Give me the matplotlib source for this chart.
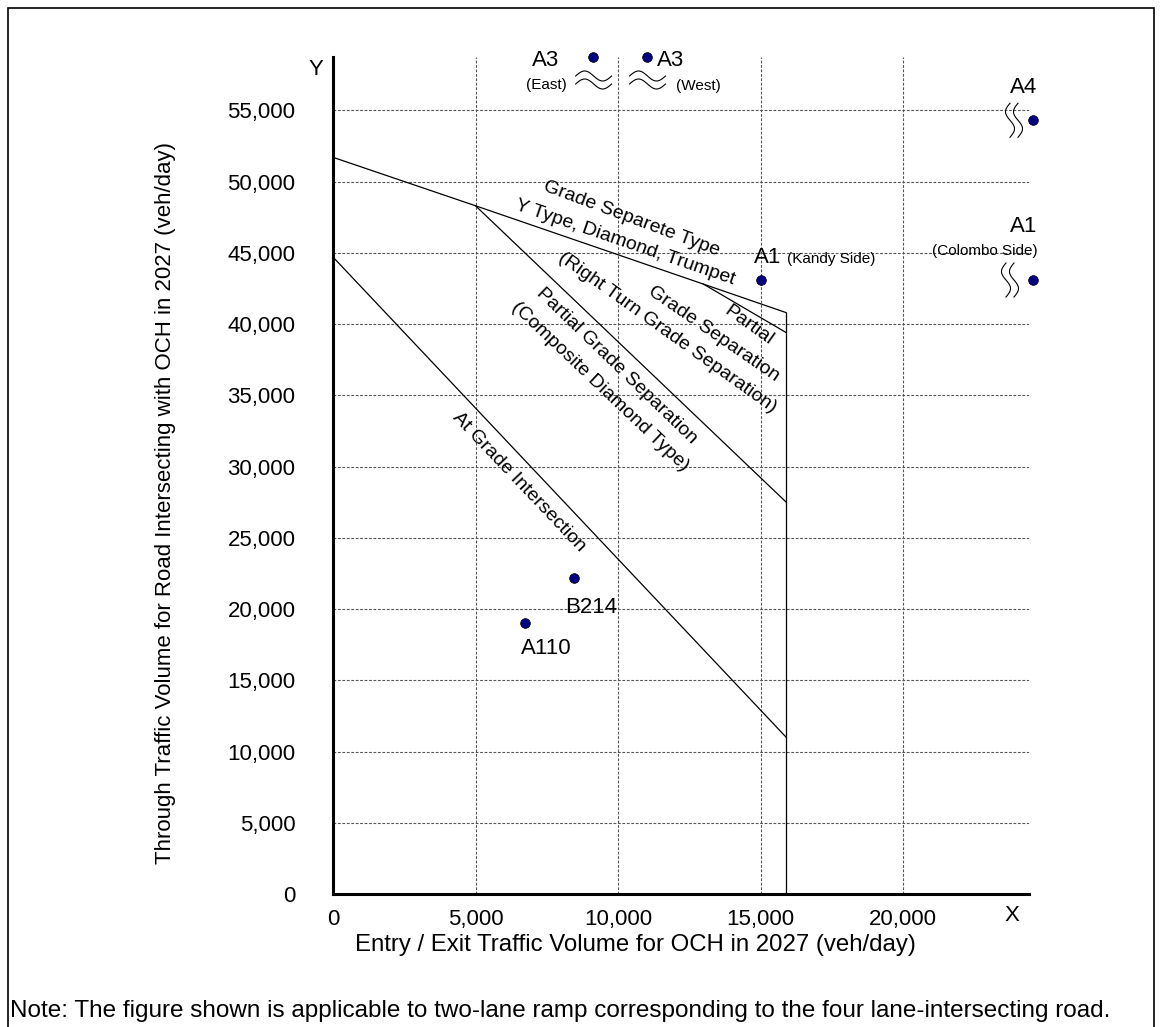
import numpy as np
import matplotlib.pyplot as plt
import matplotlib.transforms as mtransforms
from matplotlib.patches import Rectangle

plt.rcParams['font.family'] = ['Liberation Sans', 'DejaVu Sans']

# boundary lines (x = entry/exit veh/day, y = through veh/day)
grade_sep_x = [0, 5000, 13000, 15900]
grade_sep_y = [51700, 48300, 42800, 40800]
partial_rt_x = [13000, 15900]
partial_rt_y = [42800, 39400]
partial_cd_x = [5000, 15900]
partial_cd_y = [48300, 27500]
at_grade_x = [0, 15900]
at_grade_y = [44700, 11000]
limit_x = [15900, 15900]
limit_y = [40800, 0]

# intersections
pt_names = ['A3 East', 'A3 West', 'A4', 'A1 Colombo', 'A1 Kandy', 'B214', 'A110']
pt_x = [9110, 11000, 24560, 24560, 15000, 8460, 6740]
pt_y = [58740, 58740, 54300, 43090, 43090, 22180, 19020]

xticks = [0, 5000, 10000, 15000, 20000]
yticks = list(range(0, 55001, 5000))

fig = plt.figure(figsize=(11.62, 10.27), dpi=100)
ax = fig.add_axes([333/1162, 1-894/1027, (1029-333)/1162, (894-57)/1027])
ax.set_xlim(0, 24420)
ax.set_ylim(0, 58740)

ax.set_xticks(xticks)
ax.set_xticklabels([f'{v:,}' for v in xticks])
ax.set_yticks(yticks)
ax.set_yticklabels([f'{v:,}' for v in yticks])
ax.tick_params(axis='x', length=0, pad=11, labelsize=16)
ax.tick_params(axis='y', length=0, pad=27, labelsize=16)
ax.grid(True, color='#555555', linestyle=(0, (2.5, 1.5)), linewidth=0.8)
ax.set_axisbelow(True)
for s in ['top', 'right']:
    ax.spines[s].set_visible(False)
for s in ['left', 'bottom']:
    ax.spines[s].set_linewidth(2.2)

lk = dict(color='black', linewidth=0.9)
ax.plot(grade_sep_x, grade_sep_y, **lk)
ax.plot(partial_rt_x, partial_rt_y, **lk)
ax.plot(partial_cd_x, partial_cd_y, **lk)
ax.plot(at_grade_x, at_grade_y, **lk)
ax.plot(limit_x, limit_y, **lk)

ax.plot(pt_x, pt_y, 'o', color='#000080', markeredgecolor='black',
        markeredgewidth=0.5, markersize=7, clip_on=False, zorder=5)

# region labels
rk = dict(fontsize=14, ha='center', va='center', rotation_mode='anchor')
ax.text(10456, 47368, 'Grade Separete Type', rotation=-20.5, **rk)
ax.text(10246, 45684, 'Y Type, Diamond, Trumpet', rotation=-19, **rk)
ax.text(14596, 39930, 'Partial', rotation=-35.5, **rk)
ax.text(13368, 39298, 'Grade Separation', rotation=-34.5, **rk)
ax.text(11719, 39368, '(Right Turn Grade Separation)', rotation=-35.5, **rk)
ax.text(9965, 37053, 'Partial Grade Separation', rotation=-44, **rk)
ax.text(9368, 35579, '(Composite Diamond Type)', rotation=-43.5, **rk)
ax.text(6526, 28912, 'At Grade Intersection', rotation=-46.5, **rk)

# point labels (offsets in pixels)
def lab(i, s, dx, dy, size=16, ha='center'):
    ax.annotate(s, (pt_x[i], pt_y[i]), xytext=(dx, dy), textcoords='offset pixels',
                ha=ha, va='center', fontsize=size, annotation_clip=False)

lab(0, 'A3', -47, -4)
lab(0, '(East)', -46, -28, 11)
lab(1, 'A3', 24, -4)
lab(1, '(West)', 52, -29, 11)
lab(2, 'A4', -9, 33)
lab(3, 'A1', -9, 54)
lab(3, '(Colombo Side)', 5, 29, 11, 'right')
lab(4, 'A1', -7, 23, ha='left')
lab(4, '(Kandy Side)', 26, 21, 11, 'left')
lab(5, 'B214', 17, -30)
lab(6, 'A110', 21, -26)

# break marks (wavy double lines), shapes in pixels around each point
t = np.linspace(0, 2*np.pi, 60)
def wave(i, dx, dy, vertical=False):
    off = mtransforms.ScaledTranslation(pt_x[i], pt_y[i], ax.transData)
    tr = fig.dpi_scale_trans + off
    if vertical:
        wx = (dx - 4.5*np.sin(t)) / 100
        wy = (dy + np.linspace(17, -17, t.size)) / 100
    else:
        wx = (dx + np.linspace(-18, 18, t.size)) / 100
        wy = (dy + 5*np.sin(t)) / 100
    ax.plot(wx, wy, color='black', linewidth=0.8, transform=tr, clip_on=False)

for k in [0, 1]:
    wave(k, 1, -19)
    wave(k, 1, -27)
wave(2, -23, 0, True)
wave(2, -15, 0, True)
wave(3, -27, 0, True)
wave(3, -19, 0, True)

# axis names
ax.text(-0.0244, 0.9845, 'Y', transform=ax.transAxes, ha='center', va='center', fontsize=16)
ax.text(0.9756, -0.026, 'X', transform=ax.transAxes, ha='center', va='center', fontsize=16)
ax.text(0.435, -0.061, 'Entry / Exit Traffic Volume for OCH in 2027 (veh/day)',
        transform=ax.transAxes, ha='center', va='center', fontsize=17.3)
ax.text(-0.241, 0.467, 'Through Traffic Volume for Road Intersecting with OCH in 2027 (veh/day)',
        transform=ax.transAxes, ha='center', va='center', rotation=90, fontsize=16)

fig.text(10/1162, 1-1011/1027,
         'Note: The figure shown is applicable to two-lane ramp corresponding to the four lane-intersecting road.',
         ha='left', va='center', fontsize=17.5)

fig.patches.append(Rectangle((8/1162, -0.05), (1154-8)/1162, 1.05-8/1027,
                             transform=fig.transFigure, fill=False,
                             edgecolor='black', linewidth=1.2))

fig.savefig('out.png', dpi=100)
